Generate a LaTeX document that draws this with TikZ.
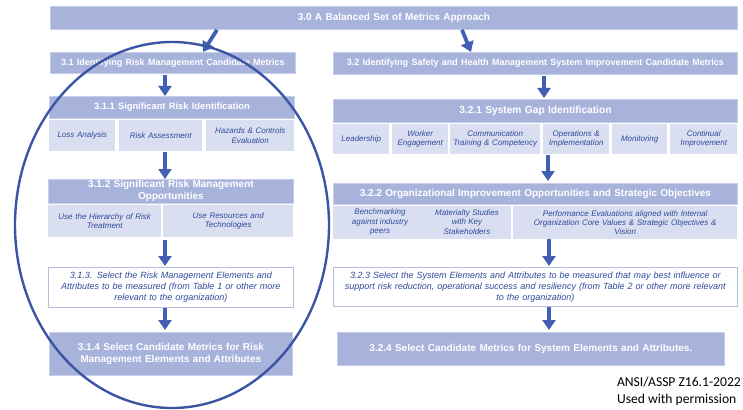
\documentclass[tikz,border=0pt]{standalone}
\usepackage{fontspec}
\setmainfont{Liberation Sans}
\newfontfamily\notefont{Carlito}
\usetikzlibrary{arrows.meta}
\definecolor{hdrfill}{HTML}{A8B3DC}
\definecolor{hdrline}{HTML}{C6CEEB}
\definecolor{cellfill}{HTML}{D9DEF0}
\definecolor{celltext}{HTML}{2F4A9C}
\definecolor{boxline}{HTML}{B3BDE2}
\definecolor{arrowc}{HTML}{4260B3}
\definecolor{ringc}{HTML}{3B55A4}
\tikzset{
  hdr/.style={fill=hdrfill, draw=hdrline, line width=0.8pt, text=white,
    anchor=north west, inner sep=0pt, align=center},
  cellbox/.style={fill=cellfill, draw=none, text=celltext, anchor=north west,
    inner sep=0pt, align=center, font=\itshape\fontsize{8}{9.2}\selectfont},
  selbox/.style={fill=white, draw=boxline, line width=0.7pt, text=celltext,
    anchor=north west, inner sep=0pt, align=center,
    font=\itshape\fontsize{9}{11}\selectfont},
  blk/.style={draw=arrowc, line width=3.8pt,
    -{Triangle[width=13pt,length=10pt]}},
  ring/.style={draw=ringc, line width=2.4pt},
  free/.style={inner sep=0pt, text=celltext, align=center,
    font=\itshape\fontsize{8}{9.2}\selectfont},
}
% box by corners: \bx[style]{name}{x0}{y0}{x1}{y1}{text}
\newcommand{\bx}[7][hdr]{%
  \node[#1, minimum width=#5pt-#3pt, minimum height=#6pt-#4pt,
    text width=#5pt-#3pt-4pt] (#2) at (#3,#4) {#7};}
\begin{document}
\begin{tikzpicture}[x=1pt,y=-1pt]
\useasboundingbox (0,0) rectangle (743,409);

% top level
\bx{top}{50}{6}{737}{29}{\bfseries\fontsize{10}{12}\selectfont 3.0 A Balanced Set of Metrics Approach}

% left column
\bx{b31}{50}{52}{295}{73}{\bfseries\fontsize{9}{11}\selectfont 3.1 Identifying Risk Management Candidate Metrics}
\bx{b311}{49}{96}{294}{118}{\bfseries\fontsize{9.3}{11}\selectfont 3.1.1 Significant Risk Identification}
\bx[cellbox]{c1}{49}{120}{115}{151}{Loss Analysis}
\bx[cellbox]{c2}{119}{120}{202}{151}{Risk Assessment}
\bx[cellbox]{c3}{206}{120}{294}{151}{Hazards \& Controls\\Evaluation}
\bx{b312}{48}{179}{293}{203}{\bfseries\fontsize{10}{11.5}\selectfont 3.1.2 Significant Risk Management\\Opportunities}
\bx[cellbox]{c4}{48}{205}{161}{237}{Use the Hierarchy of Risk\\Treatment}
\bx[cellbox]{c5}{163}{205}{293}{237}{Use Resources and\\Technologies}
\bx[selbox]{b313}{48}{267}{293}{307}{3.1.3. Select the Risk Management Elements and\\Attributes to be measured (from Table 1 or other more\\relevant to the organization)}
\bx{b314}{49}{332}{292}{375}{\bfseries\fontsize{10}{13}\selectfont 3.1.4 Select Candidate Metrics for Risk\\Management Elements and Attributes}

% right column
\bx{b32}{333}{52}{737}{74}{\bfseries\fontsize{9}{11}\selectfont 3.2 Identifying Safety and Health Management System Improvement Candidate Metrics}
\bx{b321}{333}{99}{737}{122}{\bfseries\fontsize{10.2}{12}\selectfont 3.2.1 System Gap Identification}
\bx[cellbox]{d1}{333}{124}{389}{154}{Leadership}
\bx[cellbox]{d2}{392}{124}{448}{154}{Worker\\Engagement}
\bx[cellbox]{d3}{450}{124}{540}{154}{Communication\\Training \& Competency}
\bx[cellbox]{d4}{543}{124}{609}{154}{Operations \&\\Implementation}
\bx[cellbox]{d5}{612}{124}{667}{154}{Monitoring}
\bx[cellbox]{d6}{670}{124}{737}{154}{Continual\\Improvement}
\bx{b322}{333}{183}{737}{204}{\bfseries\fontsize{10}{12}\selectfont 3.2.2 Organizational Improvement Opportunities and Strategic Objectives}
\bx[cellbox]{d7}{333}{206}{511}{239}{}
\node[free] (d7a) at (380,222) {Benchmarking\\against industry\\peers};
\node[free] (d7b) at (467,222) {Materialty Studies\\with Key\\Stakeholders};
\bx[cellbox]{d8}{513}{206}{737}{239}{Performance Evaluations aligned with Internal\\Organization Core Values \& Strategic Objectives \&\\Vision}
\bx[selbox]{b323}{333}{267}{737}{306}{3.2.3 Select the System Elements and Attributes to be measured that may best influence or\\support risk reduction, operational success and resiliency (from Table 2 or other more relevant\\to the organization)}
\bx{b324}{337}{332}{724}{365}{\bfseries\fontsize{10}{12}\selectfont 3.2.4 Select Candidate Metrics for System Elements and Attributes.}

% flow arrows
\draw[blk] ([xshift=167pt]top.south west) -- ([xshift=153pt]b31.north west);
\draw[blk] ([xshift=412pt]top.south west) -- ([xshift=138pt]b32.north west);
\draw[blk] ([xshift=115pt,yshift=-1pt]b31.south west) -- ([xshift=116pt]b311.north west);
\draw[blk] ([xshift=116pt,yshift=-1pt]c3.south west -| b311.south west) -- ([xshift=117pt]b312.north west);
\draw[blk] ([xshift=117pt,yshift=-3pt]c4.south west) -- ([xshift=117pt,yshift=1pt]b313.north west);
\draw[blk] ([xshift=117pt]b313.south west) -- ([xshift=116pt,yshift=2pt]b314.north west);
\draw[blk] ([xshift=211pt,yshift=-1pt]b32.south west) -- ([xshift=211pt,yshift=1pt]b321.north west);
\draw[blk] ([xshift=215pt,yshift=-1pt]d1.south west) -- ([xshift=215pt,yshift=2pt]b322.north west);
\draw[blk] ([xshift=216pt]d7.south west) -- ([xshift=216pt,yshift=1pt]b323.north west);
\draw[blk] ([xshift=216pt]b323.south west) -- ([xshift=212pt,yshift=2pt]b324.north west);

% ring round the risk-management column
\draw[ring] (172,225) ellipse [x radius=157, y radius=183];

% source note
\node[anchor=north east, inner sep=0pt, align=left,
  font=\notefont\fontsize{13.6}{16.5}\selectfont] (note) at (741,377)
  {ANSI/ASSP Z16.1-2022\\Used with permission};
\end{tikzpicture}
\end{document}
